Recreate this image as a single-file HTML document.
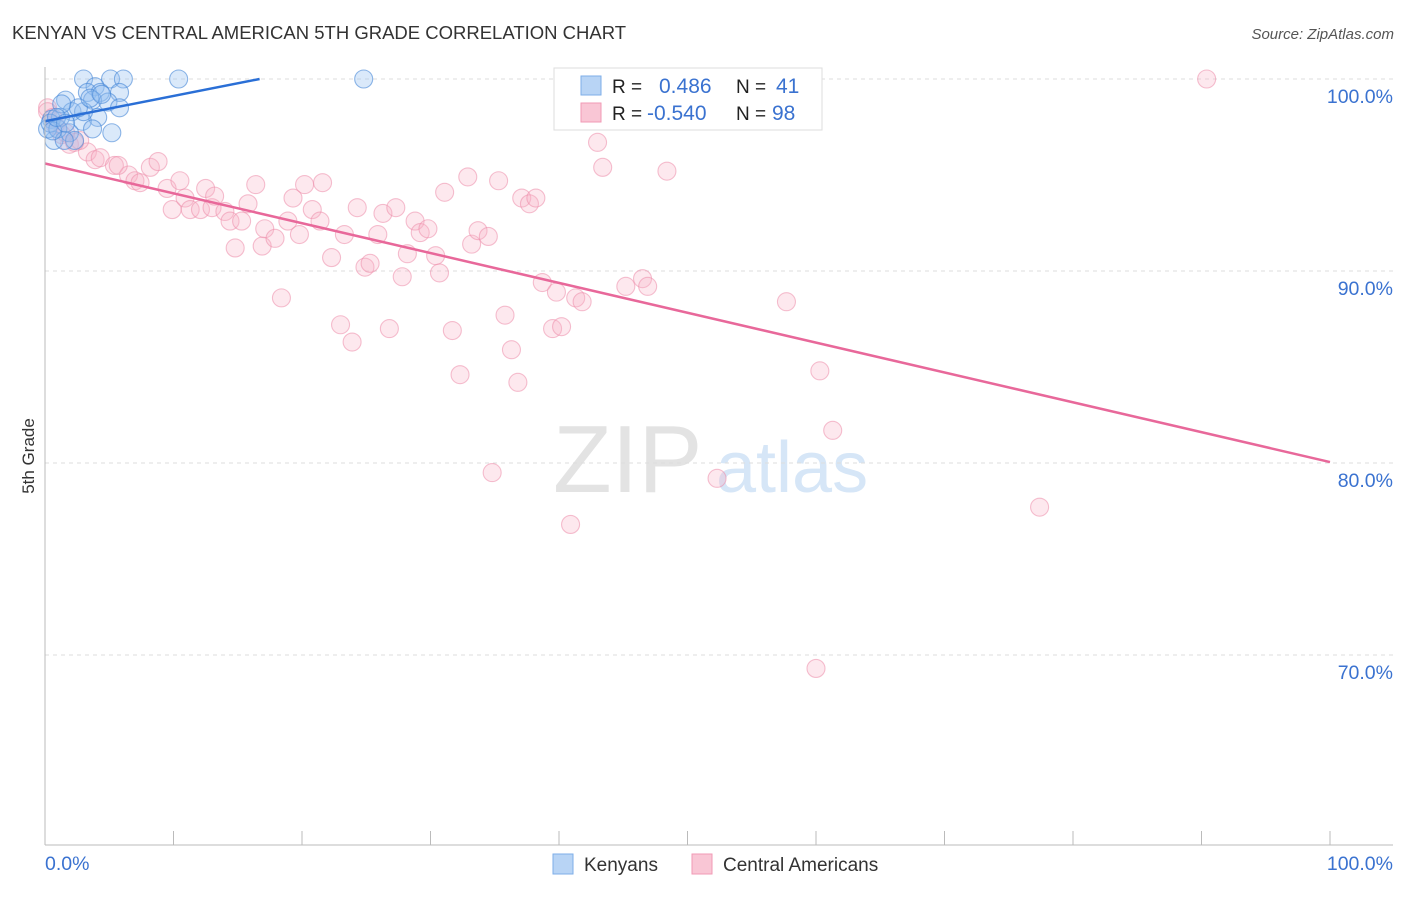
<!DOCTYPE html>
<html><head><meta charset="utf-8"><style>
body{margin:0;background:#fff;font-family:"Liberation Sans",sans-serif;}
svg text{font-family:"Liberation Sans",sans-serif;}
</style></head><body>
<svg width="1406" height="892" id="c">
<text x="12" y="39" font-size="18.5" fill="#333">KENYAN VS CENTRAL AMERICAN 5TH GRADE CORRELATION CHART</text>
<text x="1394" y="39" font-size="15" fill="#555" font-style="italic" text-anchor="end">Source: ZipAtlas.com</text>
<text x="34" y="456" font-size="17" fill="#333" text-anchor="middle" transform="rotate(-90 34 456)">5th Grade</text>
<g><text x="553" y="492" font-size="96" font-family="Liberation Serif" fill="#e3e3e3">ZIP</text><text x="716" y="492" font-size="72" fill="#d6e6f7">atlas</text></g>
<g id="grid"></g><g id="pts"></g><g id="lines"></g><g id="axes"></g>
<g>
<rect x="554" y="68" width="268" height="62" fill="#fff" stroke="#ddd"/>
<rect x="581" y="76" width="20" height="19" fill="#b8d4f5" stroke="#7eaee8"/>
<rect x="581" y="103" width="20" height="19" fill="#f9c6d5" stroke="#f19ab5"/>
<text x="612" y="93" font-size="19" fill="#222">R =</text><text x="659" y="93" font-size="21" fill="#3a72d0">0.486</text>
<text x="736" y="93" font-size="19" fill="#222">N =</text><text x="776" y="93" font-size="21" fill="#3a72d0">41</text>
<text x="612" y="120" font-size="19" fill="#222">R =</text><text x="647" y="120" font-size="21" fill="#3a72d0">-0.540</text>
<text x="736" y="120" font-size="19" fill="#222">N =</text><text x="772" y="120" font-size="21" fill="#3a72d0">98</text>
</g>
<g>
<rect x="553" y="854" width="20" height="20" fill="#b8d4f5" stroke="#7eaee8"/>
<text x="584" y="871" font-size="19" fill="#333">Kenyans</text>
<rect x="692" y="854" width="20" height="20" fill="#f9c6d5" stroke="#f19ab5"/>
<text x="723" y="871" font-size="19" fill="#333">Central Americans</text>
</g>
</svg>
<script>
const blueX=[3.0,5.1,6.1,10.4,24.8,3.9,3.3,4.3,5.8,1.6,3.7,4.9,5.8,2.1,4.1,2.9,0.5,1.2,5.2,3.7,1.9,0.7,0.2,0.4,1.0,2.3,1.5,3.0,2.6,1.3,0.6,0.9,1.6,3.5,4.4];
const blueY=[100,100,100,100,100,99.6,99.3,99.3,99.3,98.9,98.9,98.8,98.5,98.3,98.0,97.8,97.9,98.0,97.2,97.4,97.2,96.8,97.4,97.7,97.4,96.8,96.8,98.3,98.5,98.7,97.3,98.0,97.7,99.0,99.2];
const pinkX=[0.2,1.9,3.3,3.9,4.3,2.7,5.4,6.5,7.0,7.4,8.2,8.8,5.7,9.5,9.9,10.5,10.9,11.3,12.1,12.5,13.0,13.2,14.0,14.4,14.8,15.3,15.8,16.4,16.9,17.1,17.9,18.4,18.9,19.3,19.8,20.2,20.8,21.4,21.6,22.3,23.0,23.3,23.9,24.3,24.9,25.3,25.9,26.3,26.8,27.3,27.8,28.2,28.8,29.2,29.8,30.4,30.7,31.1,31.7,32.3,32.9,33.2,33.7,34.5,34.8,35.3,35.8,36.3,36.8,37.1,37.7,38.2,38.7,39.5,39.8,40.2,40.9,41.3,41.8,43.0,43.4,45.2,46.5,46.9,48.4,49.1,52.3,57.7,60.0,60.3,61.3,77.4,90.4,0.2,0.8,1.3,2.3,0.6,1.6];
const pinkY=[98.5,96.6,96.2,95.8,95.9,96.8,95.5,95.0,94.7,94.6,95.4,95.7,95.5,94.3,93.2,94.7,93.8,93.2,93.2,94.3,93.3,93.9,93.1,92.6,91.2,92.6,93.5,94.5,91.3,92.2,91.7,88.6,92.6,93.8,91.9,94.5,93.2,92.6,94.6,90.7,87.2,91.9,86.3,93.3,90.2,90.4,91.9,93.0,87.0,93.3,89.7,90.9,92.6,92.0,92.2,90.8,89.9,94.1,86.9,84.6,94.9,91.4,92.1,91.8,79.5,94.7,87.7,85.9,84.2,93.8,93.5,93.8,89.4,87.0,88.9,87.1,76.8,88.6,88.4,96.7,95.4,89.2,89.6,89.2,95.2,100,79.2,88.4,69.3,84.8,81.7,77.7,100,98.3,97.6,97.1,96.7,98.0,97.2];
const yTicks=[100,90,80,70];
const xTickLabels=["0.0%","100.0%"];
const blueTrend=[0,97.8,16.7,100];
const pinkTrend=[0,95.6,100,80.05];
const X=v=>45+v*12.85, Y=v=>79+(100-v)*19.2;
const NS="http://www.w3.org/2000/svg";
function mk(t,a,p){const e=document.createElementNS(NS,t);for(const k in a)e.setAttribute(k,a[k]);document.getElementById(p).appendChild(e);return e;}
yTicks.forEach(v=>{
 const l=mk('line',{x1:45,x2:1393,y1:Y(v),y2:Y(v),stroke:'#ddd','stroke-dasharray':'4 4'},'grid');
 
 
 const t=mk('text',{x:1393,y:Y(v)+24,'font-size':19.5,fill:'#3a72d0','text-anchor':'end'},'axes');t.textContent=v.toFixed(1)+'%';
 
 
});
mk('line',{x1:45,x2:45,y1:67,y2:845,stroke:'#bbb'},'axes');
mk('line',{x1:45,x2:1393,y1:845,y2:845,stroke:'#bbb'},'axes');
for(let i=0;i<=10;i++){mk('line',{x1:X(i*10),x2:X(i*10),y1:831,y2:845,stroke:'#bbb'},'axes');}
xTickLabels.forEach((s,i)=>{const t=mk('text',{x:i?1393:45,y:870,'font-size':19.5,fill:'#3a72d0','text-anchor':i?'end':'start'},'axes');t.textContent=s;
 
 });
pinkX.forEach((v,i)=>{const c=mk('circle',{cx:X(v),cy:Y(pinkY[i]),r:9,fill:'rgba(248,180,200,0.3)',stroke:'rgba(236,140,170,0.55)','stroke-width':1.1},'pts');
 
 });
blueX.forEach((v,i)=>{const c=mk('circle',{cx:X(v),cy:Y(blueY[i]),r:9,fill:'rgba(150,192,242,0.35)',stroke:'rgba(70,135,215,0.6)','stroke-width':1.1},'pts');
 
 });
const bl=mk('line',{x1:X(blueTrend[0]),y1:Y(blueTrend[1]),x2:X(blueTrend[2]),y2:Y(blueTrend[3]),stroke:'#2a6fd6','stroke-width':2.5},'lines');


const pl=mk('line',{x1:X(pinkTrend[0]),y1:Y(pinkTrend[1]),x2:X(pinkTrend[2]),y2:Y(pinkTrend[3]),stroke:'#e8689a','stroke-width':2.5},'lines');


</script>
</body></html>
